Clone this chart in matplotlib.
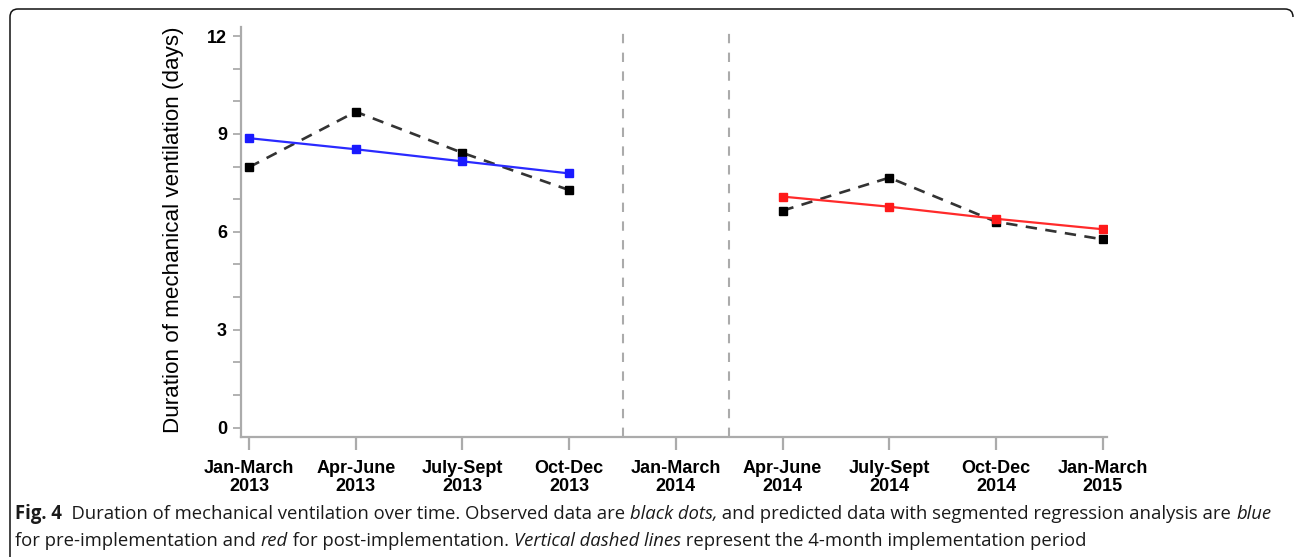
import matplotlib
matplotlib.use("Agg")
import matplotlib.pyplot as plt
from matplotlib.path import Path
from matplotlib.patches import PathPatch
from matplotlib.ticker import MultipleLocator

# ---------------- data ----------------
categories = ["Jan-March\n2013", "Apr-June\n2013", "July-Sept\n2013", "Oct-Dec\n2013",
              "Jan-March\n2014", "Apr-June\n2014", "July-Sept\n2014", "Oct-Dec\n2014",
              "Jan-March\n2015"]
pre_positions = [0, 1, 2, 3]
post_positions = [5, 6, 7, 8]
pre_observed = [7.98, 9.68, 8.42, 7.28]
pre_predicted = [8.87, 8.53, 8.16, 7.79]
post_observed = [6.65, 7.66, 6.31, 5.77]
post_predicted = [7.08, 6.77, 6.40, 6.08]
implementation_bounds = [3.5, 4.5]
y_major_ticks = [0, 3, 6, 9, 12]
y_label = "Duration of mechanical ventilation (days)"

caption_line1 = [("Fig. 4", "normal", "bold"),
                 ("  Duration of mechanical ventilation over time. Observed data are ", "normal", "normal"),
                 ("black dots,", "italic", "normal"),
                 (" and predicted data with segmented regression analysis are ", "normal", "normal"),
                 ("blue", "italic", "normal")]
caption_line2 = [("for pre-implementation and ", "normal", "normal"),
                 ("red", "italic", "normal"),
                 (" for post-implementation. ", "normal", "normal"),
                 ("Vertical dashed lines", "italic", "normal"),
                 (" represent the 4-month implementation period", "normal", "normal")]

# ---------------- figure ----------------
W, H = 1295, 558
fig = plt.figure(figsize=(W / 100, H / 100), dpi=100)
fig.patch.set_facecolor("white")

def fx(x):
    return x / W

def fy(y):
    return 1 - y / H

ax_left, ax_right, ax_top, ax_bottom = 240.7, 1107.0, 26.7, 437.3
ax = fig.add_axes([fx(ax_left), fy(ax_bottom), (ax_right - ax_left) / W, (ax_bottom - ax_top) / H])

x_pos = list(range(len(categories)))
ax.set_xlim(-0.078, 8.04)
ax.set_ylim(-0.294, 12.285)

gray = "#ababab"
for s in ["top", "right"]:
    ax.spines[s].set_visible(False)
for s in ["left", "bottom"]:
    ax.spines[s].set_color(gray)
    ax.spines[s].set_linewidth(1.6)

tick_family = ["Liberation Sans", "DejaVu Sans"]
ax.set_yticks(y_major_ticks)
ax.yaxis.set_minor_locator(MultipleLocator(1))
ax.set_xticks(x_pos)
ax.set_xticklabels(categories)
ax.tick_params(axis="y", which="both", length=5.8, width=1.3, color=gray, pad=4,
               labelsize=13, direction="out")
ax.tick_params(axis="x", which="both", length=9.5, width=1.6, color=gray, pad=6.5,
               labelsize=13, direction="out")
for lab in ax.get_xticklabels() + ax.get_yticklabels():
    lab.set_fontfamily(tick_family)
    lab.set_fontweight("bold")
for lab in ax.get_xticklabels():
    lab.set_linespacing(1.08)

# implementation period lines
for b in implementation_bounds:
    ax.axvline(b, ymin=0, ymax=(12.08 + 0.294) / (12.285 + 0.294), color=gray, lw=1.5,
               dashes=(4.5, 4.5))

# observed (black dashed)
for xs, ys in [(pre_positions, pre_observed), (post_positions, post_observed)]:
    ax.plot(xs, ys, color="#333333", lw=1.9, dashes=(4.3, 3.2), marker="s", markersize=5.5,
            markerfacecolor="black", markeredgecolor="black", zorder=3)

# predicted
ax.plot(pre_positions, pre_predicted, color="#2a2aff", lw=1.6, marker="s", markersize=5.5,
        markerfacecolor="#1a1aff", markeredgecolor="#1a1aff", zorder=4)
ax.plot(post_positions, post_predicted, color="#ff2a2a", lw=1.6, marker="s", markersize=5.5,
        markerfacecolor="#ff1a1a", markeredgecolor="#ff1a1a", zorder=4)

# y label
fig.text(fx(173), fy(229.5), y_label, rotation=90, ha="center", va="center",
         fontsize=16.1, family=["Liberation Sans", "DejaVu Sans"], color="#000000")

# ---------------- frame ----------------
r = 8
verts = [(10, 557), (10, 9 + r), (10, 9), (10 + r, 9), (1293 - r, 9), (1293, 9), (1293, 9 + r)]
codes = [Path.MOVETO, Path.LINETO, Path.CURVE3, Path.CURVE3, Path.LINETO, Path.CURVE3, Path.CURVE3]
verts_f = [(fx(x), fy(y)) for x, y in verts]
fig.add_artist(PathPatch(Path(verts_f, codes), transform=fig.transFigure, fill=False,
                         edgecolor="#111111", lw=1.1))

# ---------------- caption ----------------
cap_family = ["Open Sans", "DejaVu Sans"]
renderer = fig.canvas.get_renderer()

def piece_width(txt, size, style, weight):
    a = fig.text(0, 0, "|" + txt + "|", fontsize=size, family=cap_family, style=style, weight=weight)
    b = fig.text(0, 0, "||", fontsize=size, family=cap_family, style=style, weight=weight)
    w = a.get_window_extent(renderer).width - b.get_window_extent(renderer).width
    a.remove()
    b.remove()
    return w

def line_width(runs, size):
    return sum(piece_width(t, size, s, w) for t, s, w in runs)

base = 12.0
target = 1082 - 15
cap_size = base * target / line_width(caption_line2, base)

def draw_runs(runs, x0, ybase, size):
    x = x0
    for txt, style, weight in runs:
        fig.text(fx(x), fy(ybase), txt, fontsize=size, family=cap_family, style=style,
                 weight=weight, ha="left", va="baseline", color="#1a1a1a")
        x += piece_width(txt, size, style, weight)

draw_runs(caption_line1, 15, 519, cap_size)
draw_runs(caption_line2, 15, 546, cap_size)

fig.savefig("out.png", dpi=100, facecolor="white")
